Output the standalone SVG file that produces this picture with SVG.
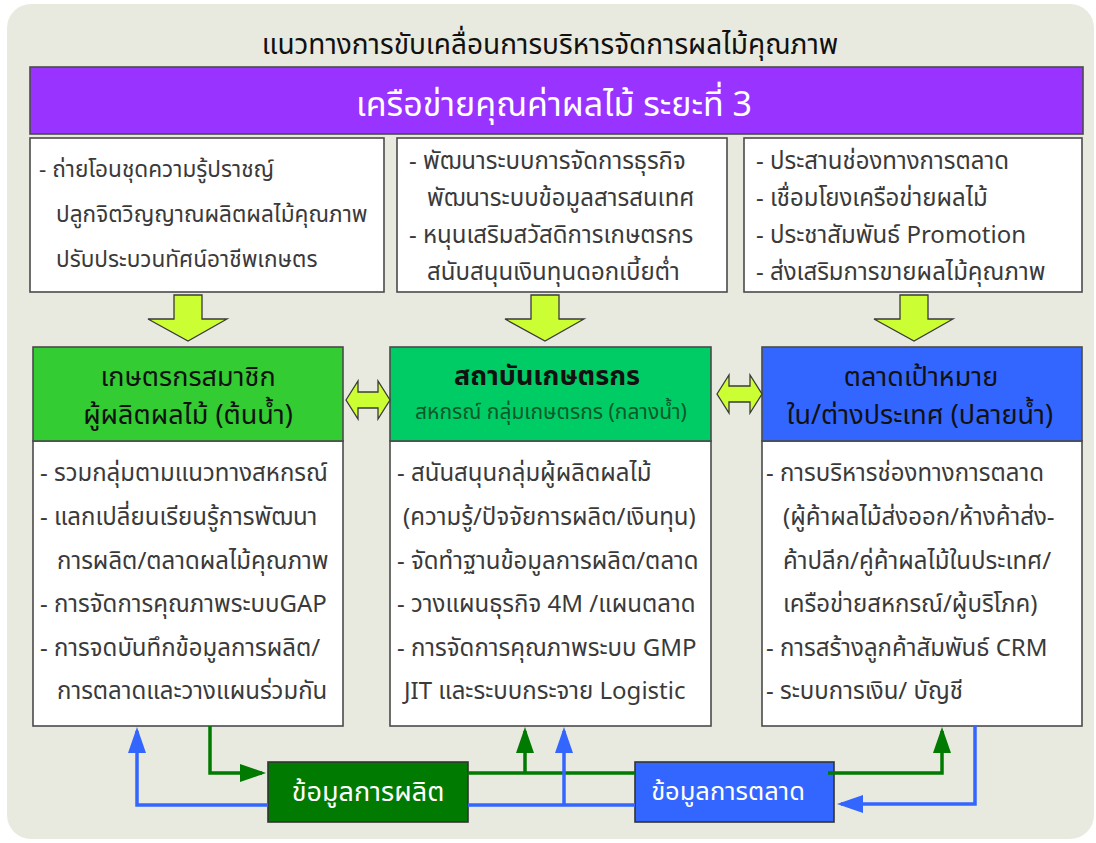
<svg xmlns="http://www.w3.org/2000/svg" width="1096" height="843" viewBox="0 0 1096 843">
<style>
text{font-family:Tahoma,"Noto Sans Thai","Noto Sans","DejaVu Sans",sans-serif}
.title{font-size:28px;fill:#111;text-anchor:middle}
.band{font-size:34px;fill:#fff;text-anchor:middle}
.t{font-size:24px;fill:#3a3a3a}
.t1{font-size:22.6px;fill:#3a3a3a}
.hd{font-size:27px;fill:#111;text-anchor:middle}
.sub{font-size:21px;fill:#0b5a2a;text-anchor:middle}
.lbl{fill:#fff;text-anchor:middle}
.box{fill:#fff;stroke:#4a4a4a;stroke-width:1.6}
.blk{fill:#ccff33;stroke:#3a3a3a;stroke-width:1.3;stroke-linejoin:miter}
.g{fill:none;stroke:#007a00;stroke-width:3.5}
.b{fill:none;stroke:#3366ff;stroke-width:3.5}
</style>
<defs>
<marker id="ag" markerUnits="userSpaceOnUse" markerWidth="26" markerHeight="18" refX="22" refY="9" orient="auto"><path d="M0,0 L26,9 L0,18 z" fill="#007a00"/></marker>
<marker id="ab" markerUnits="userSpaceOnUse" markerWidth="26" markerHeight="18" refX="22" refY="9" orient="auto"><path d="M0,0 L26,9 L0,18 z" fill="#3366ff"/></marker>
</defs>
<rect x="0" y="0" width="1096" height="843" fill="#fff"/>
<rect x="7" y="4" width="1087" height="835" rx="24" fill="#e9eadf"/>
<text class="title" x="550" y="54">แนวทางการขับเคลื่อนการบริหารจัดการผลไม้คุณภาพ</text>
<g id="band">
<rect x="30" y="67" width="1053" height="67" fill="#9933ff" stroke="#4a4a4a" stroke-width="1.6"/>
<text class="band" x="554" y="116">เครือข่ายคุณค่าผลไม้ ระยะที่ 3</text>
</g>
<g id="box1">
<rect class="box" x="30" y="138" width="354" height="154"/>
<text class="t1" x="39" y="177">- ถ่ายโอนชุดความรู้ปราชญ์</text>
<text class="t1" x="56" y="222">ปลูกจิตวิญญาณผลิตผลไม้คุณภาพ</text>
<text class="t1" x="56" y="267">ปรับประบวนทัศน์อาชีพเกษตร</text>
</g>
<g id="box2">
<rect class="box" x="397" y="138" width="330" height="154"/>
<text class="t" x="409" y="169">- พัฒนาระบบการจัดการธุรกิจ</text>
<text class="t" x="427" y="206">พัฒนาระบบข้อมูลสารสนเทศ</text>
<text class="t" x="409" y="243">- หนุนเสริมสวัสดิการเกษตรกร</text>
<text class="t" x="427" y="280">สนับสนุนเงินทุนดอกเบี้ยต่ำ</text>
</g>
<g id="box3">
<rect class="box" x="744" y="138" width="338" height="154"/>
<text class="t" x="756" y="169">- ประสานช่องทางการตลาด</text>
<text class="t" x="756" y="206">- เชื่อมโยงเครือข่ายผลไม้</text>
<text class="t" x="756" y="243">- ประชาสัมพันธ์ Promotion</text>
<text class="t" x="756" y="280">- ส่งเสริมการขายผลไม้คุณภาพ</text>
</g>
<g id="downarrows">
<path class="blk" d="M174,295 H202 V319 H227 L188,341 L148,319 H174 Z"/>
<path class="blk" d="M531,295 H559 V319 H584 L545,341 L505,319 H531 Z"/>
<path class="blk" d="M900,295 H928 V319 H953 L914,341 L874,319 H900 Z"/>
</g>
<g id="node1">
<rect class="box" x="33" y="441" width="310" height="285"/>
<rect x="33" y="347" width="310" height="94" fill="#33cc33" stroke="#4a4a4a" stroke-width="1.6"/>
<text class="hd" x="188" y="386">เกษตรกรสมาชิก</text>
<text class="hd" x="188" y="424">ผู้ผลิตผลไม้ (ต้นน้ำ)</text>
<text class="t" x="40" y="481">- รวมกลุ่มตามแนวทางสหกรณ์</text>
<text class="t" x="40" y="525">- แลกเปลี่ยนเรียนรู้การพัฒนา</text>
<text class="t" x="57" y="569">การผลิต/ตลาดผลไม้คุณภาพ</text>
<text class="t" x="40" y="612">- การจัดการคุณภาพระบบGAP</text>
<text class="t" x="40" y="656">- การจดบันทึกข้อมูลการผลิต/</text>
<text class="t" x="57" y="699">การตลาดและวางแผนร่วมกัน</text>
</g>
<g id="node2">
<rect class="box" x="390" y="441" width="321" height="285"/>
<rect x="390" y="347" width="321" height="94" fill="#00cc66" stroke="#4a4a4a" stroke-width="1.6"/>
<text class="hd" x="547" y="385" font-weight="bold" fill="#0d2a12">สถาบันเกษตรกร</text>
<text class="sub" x="551" y="419">สหกรณ์ กลุ่มเกษตรกร (กลางน้ำ)</text>
<text class="t" x="397" y="481">- สนันสนุนกลุ่มผู้ผลิตผลไม้</text>
<text class="t" x="403" y="525">(ความรู้/ปัจจัยการผลิต/เงินทุน)</text>
<text class="t" x="397" y="569">- จัดทำฐานข้อมูลการผลิต/ตลาด</text>
<text class="t" x="397" y="612">- วางแผนธุรกิจ 4M /แผนตลาด</text>
<text class="t" x="397" y="656">- การจัดการคุณภาพระบบ GMP</text>
<text class="t" x="404" y="699">JIT และระบบกระจาย Logistic</text>
</g>
<g id="node3">
<rect class="box" x="762" y="441" width="320" height="285"/>
<rect x="762" y="347" width="320" height="94" fill="#3366ff" stroke="#4a4a4a" stroke-width="1.6"/>
<text class="hd" x="921" y="386">ตลาดเป้าหมาย</text>
<text class="hd" x="920" y="424">ใน/ต่างประเทศ (ปลายน้ำ)</text>
<text class="t" x="766" y="481">- การบริหารช่องทางการตลาด</text>
<text class="t" x="783" y="525">(ผู้ค้าผลไม้ส่งออก/ห้างค้าส่ง-</text>
<text class="t" x="783" y="569">ค้าปลีก/คู่ค้าผลไม้ในประเทศ/</text>
<text class="t" x="783" y="612">เครือข่ายสหกรณ์/ผู้บริโภค)</text>
<text class="t" x="766" y="656">- การสร้างลูกค้าสัมพันธ์ CRM</text>
<text class="t" x="766" y="699">- ระบบการเงิน/ บัญชี</text>
</g>
<g id="doublearrows">
<path class="blk" d="M346,400 L358,381 V392 H378 V381 L390,400 L378,419 V408 H358 V419 Z"/>
<path class="blk" d="M717,394 L729,375 V386 H750 V375 L762,394 L750,413 V402 H729 V413 Z"/>
</g>
<g id="prod">
<rect x="268" y="762" width="200" height="60" fill="#007a00" stroke="#333" stroke-width="1.6"/>
<text class="lbl" x="368" y="801" font-size="27px">ข้อมูลการผลิต</text>
</g>
<g id="mkt">
<rect x="635" y="762" width="199" height="60" fill="#3366ff" stroke="#333" stroke-width="1.6"/>
<text class="lbl" x="728" y="800" font-size="25.5px">ข้อมูลการตลาด</text>
</g>
<g id="connectors">
<path class="g" d="M210,726 V773 H262" marker-end="url(#ag)"/>
<path class="g" d="M468,773 H635"/>
<path class="g" d="M525,773 V731" marker-end="url(#ag)"/>
<path class="g" d="M828,773 H942 V731" marker-end="url(#ag)"/>
<path class="b" d="M268,805 H137 V731" marker-end="url(#ab)"/>
<path class="b" d="M468,805 H635"/>
<path class="b" d="M564,805 V731" marker-end="url(#ab)"/>
<path class="b" d="M975,726 V804 H841" marker-end="url(#ab)"/>
</g>
</svg>
